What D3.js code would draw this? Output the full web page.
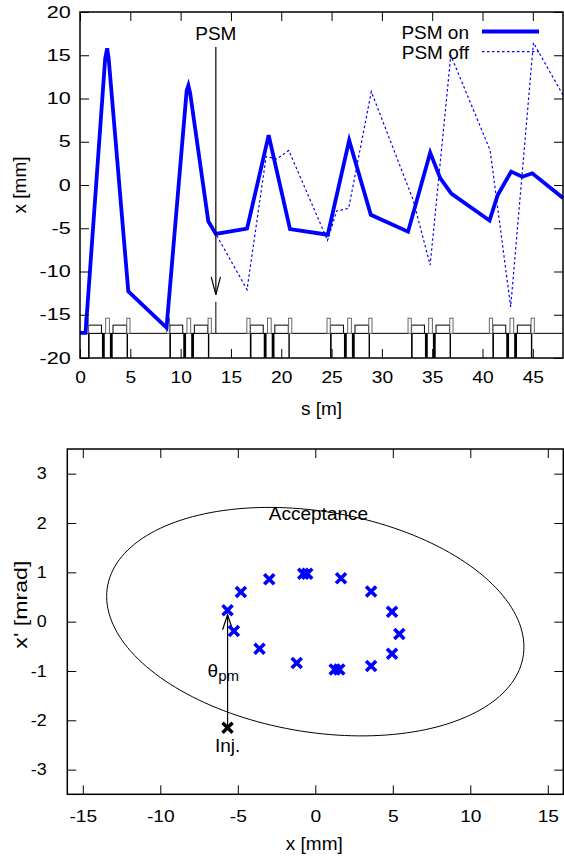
<!DOCTYPE html>
<html lang="en">
<head>
    <meta charset="UTF-8">
    <title>PSM orbit and phase space</title>
    <script src="https://d3js.org/d3.v7.min.js"></script>
    <style>
        body {
            margin: 0;
            background: #fff;
            font-family: "Liberation Sans", Arial, Helvetica, sans-serif;
        }
        text {
            fill: #000;
        }
    </style>
</head>
<body>
<div id="chart"></div>
<script>
    // ---- top panel data: closed orbit x [mm] along s [m] ----
    var psmOn = [[0, -17.1], [0.55, -17.1], [2.5, 14.6], [2.7, 15.8], [2.85, 14.6], [4.8, -12.3],
        [8.6, -16.5], [10.6, 10.9], [10.77, 11.5], [10.95, 10.6], [12.75, -4.2], [13.5, -5.66],
        [16.6, -5.05], [18.75, 5.75], [20.87, -5.1], [24.62, -5.75], [26.75, 5.15], [28.9, -3.45],
        [32.6, -5.4], [34.8, 3.74], [35.8, 0.8], [36.9, -1.0], [40.7, -4.1], [41.5, -1.2],
        [42.85, 1.55], [43.95, 0.95], [44.95, 1.35], [48, -1.5]];
    var psmOff = [[0, -17.1], [0.55, -17.1], [2.5, 14.6], [2.7, 15.8], [2.85, 14.6], [4.8, -12.3],
        [8.6, -16.5], [10.6, 10.9], [10.77, 11.5], [10.95, 10.6], [12.75, -4.2], [13.5, -5.66],
        [16.6, -12.1], [18.5, 3.3], [19.55, 3.0], [20.75, 4.0], [24.6, -6.4], [25.5, -3.0],
        [26.7, -2.7], [28.95, 10.8], [33.1, -1.7], [34.8, -9.25], [36.85, 15.0], [40.76, 4.0],
        [42.8, -14.1], [45.06, 16.45], [48, 10.4]];

    var sTicks = [0, 5, 10, 15, 20, 25, 30, 35, 40, 45];
    var xTicks = [-20, -15, -10, -5, 0, 5, 10, 15, 20];

    // lattice: cell start positions and element layout inside one cell (m)
    var cellStarts = [0.5, 8.58, 16.58, 24.55, 32.6, 40.68];
    var bends = [[0.35, 1.63], [2.78, 4.12]];
    var sexts = [[0, 0.32], [2.05, 2.42], [4.15, 4.47]];
    var quads = [[0.3, 0.46], [1.68, 1.96], [2.47, 2.75], [4.13, 4.27]];
    var psmPos = 13.5;
    var latticeBase = -17.15, bendTop = -16.2, sextTop = -15.4, psmTop = -13.5;

    // ---- bottom panel data: phase space x [mm], x' [mrad] ----
    var turns = [[-5.66, 0.23], [-5.25, -0.19], [-4.8, 0.6], [-3.6, -0.55], [-2.97, 0.86],
        [-1.2, -0.84], [-0.78, 0.97], [-0.52, 0.97], [1.25, -0.97], [1.55, -0.97], [1.66, 0.88],
        [3.6, 0.61], [3.6, -0.9], [4.95, 0.2], [4.95, -0.65], [5.42, -0.25]];
    var injection = [-5.66, -2.15];
    var kickTip = 0.14;
    // acceptance ellipse (Twiss)
    var accEmit = 30.4, accBeta = 5.96, accAlpha = 0.227;

    var phX = [-15, -10, -5, 0, 5, 10, 15];
    var phY = [-3, -2, -1, 0, 1, 2, 3];

    var svg = d3.select("#chart").append("svg")
        .attr("width", 564)
        .attr("height", 856);

    function hyphen(d) { return String(d); }

    // gnuplot-like box: inward ticks on all four sides, labels bottom/left
    function frame(g, x, y, w, h, xt, yt, xPad, yPad, kx, ky) {
        var bx = g.append("g")
            .attr("transform", "translate(0," + h + ")")
            .call(d3.axisBottom(x).tickValues(xt).tickSizeInner(-9).tickSizeOuter(0)
                .tickPadding(xPad).tickFormat(hyphen));
        g.append("g")
            .call(d3.axisTop(x).tickValues(xt).tickSizeInner(-9).tickSizeOuter(0).tickFormat(""));
        var ly = g.append("g")
            .call(d3.axisLeft(y).tickValues(yt).tickSizeInner(-9).tickSizeOuter(0)
                .tickPadding(yPad).tickFormat(hyphen));
        g.append("g")
            .attr("transform", "translate(" + w + ",0)")
            .call(d3.axisRight(y).tickValues(yt).tickSizeInner(-9).tickSizeOuter(0).tickFormat(""));
        g.selectAll(".domain").remove();
        g.selectAll(".tick text")
            .attr("font-size", 16)
            .attr("font-family", "Liberation Sans, Arial, sans-serif");
        bx.selectAll(".tick text").attr("transform", "scale(" + kx + ",1)");
        ly.selectAll(".tick text")
            .attr("x", -yPad / ky)
            .attr("transform", "scale(" + ky + ",1)");
        g.selectAll(".tick line").attr("stroke-width", 1);
        g.append("rect")
            .attr("width", w)
            .attr("height", h)
            .attr("fill", "none")
            .attr("stroke", "#000")
            .attr("stroke-width", 1.5);
    }

    function arrowHead(g, px, py, dir, len, half) {
        g.append("path")
            .attr("d", "M" + (px - half) + "," + (py - dir * len) + "L" + px + "," + py +
                "L" + (px + half) + "," + (py - dir * len))
            .attr("fill", "none")
            .attr("stroke", "#000")
            .attr("stroke-width", 1.2);
    }

    // ================= top panel =================
    var m1 = { left: 80, top: 12, width: 483, height: 346 };
    var g1 = svg.append("g").attr("transform", "translate(" + m1.left + "," + m1.top + ")");
    var x1 = d3.scaleLinear().domain([0, 48]).range([0, m1.width]);
    var y1 = d3.scaleLinear().domain([-20, 20]).range([m1.height, 0]);

    // lattice
    var lat = g1.append("g");
    lat.append("line")
        .attr("x1", x1(0)).attr("x2", x1(48))
        .attr("y1", y1(latticeBase)).attr("y2", y1(latticeBase))
        .attr("stroke", "#000").attr("stroke-width", 1);

    cellStarts.forEach(function (c) {
        quads.forEach(function (q) {
            lat.append("rect")
                .attr("x", x1(c + q[0]))
                .attr("width", x1(c + q[1]) - x1(c + q[0]))
                .attr("y", y1(latticeBase))
                .attr("height", y1(-20) - y1(latticeBase))
                .attr("fill", "#000");
        });
        bends.forEach(function (b) {
            lat.append("rect")
                .attr("x", x1(c + b[0]))
                .attr("width", x1(c + b[1]) - x1(c + b[0]))
                .attr("y", y1(bendTop))
                .attr("height", y1(latticeBase) - y1(bendTop))
                .attr("fill", "#fff").attr("stroke", "#000").attr("stroke-width", 1);
        });
        sexts.forEach(function (b) {
            lat.append("rect")
                .attr("x", x1(c + b[0]))
                .attr("width", x1(c + b[1]) - x1(c + b[0]))
                .attr("y", y1(sextTop))
                .attr("height", y1(latticeBase) - y1(sextTop))
                .attr("fill", "#fff").attr("stroke", "#666").attr("stroke-width", 1);
        });
    });
    lat.append("line")
        .attr("x1", x1(psmPos)).attr("x2", x1(psmPos))
        .attr("y1", y1(psmTop)).attr("y2", y1(latticeBase))
        .attr("stroke", "#000").attr("stroke-width", 1);

    var line1 = d3.line()
        .x(function (d) { return x1(d[0]); })
        .y(function (d) { return y1(d[1]); });

    g1.append("path")
        .datum(psmOff)
        .attr("d", line1)
        .attr("fill", "none")
        .attr("stroke", "#0000ff")
        .attr("stroke-width", 1.2)
        .attr("stroke-dasharray", "2.5,2.5");

    g1.append("path")
        .datum(psmOn)
        .attr("d", line1)
        .attr("fill", "none")
        .attr("stroke", "#0000ff")
        .attr("stroke-width", 3.8)
        .attr("stroke-linejoin", "miter");

    // PSM arrow
    g1.append("line")
        .attr("x1", x1(psmPos)).attr("x2", x1(psmPos))
        .attr("y1", y1(15.95)).attr("y2", y1(-12.7))
        .attr("stroke", "#000").attr("stroke-width", 1.2);
    arrowHead(g1, x1(psmPos), y1(-12.7), 1, 18, 4.6);
    g1.append("text")
        .attr("x", x1(psmPos))
        .attr("y", 27.5)
        .attr("text-anchor", "middle")
        .attr("font-size", 19)
        .text("PSM");

    frame(g1, x1, y1, m1.width, m1.height, sTicks, xTicks, 13.6, 9.3, 1.2, 1.35);

    // legend
    var leg = [{ name: "PSM on", w: 3.8, dash: null }, { name: "PSM off", w: 1.2, dash: "2.5,2.5" }];
    leg.forEach(function (d, i) {
        var yy = 31.5 + i * 20.2;
        svg.append("text")
            .attr("x", 469)
            .attr("y", yy + 7)
            .attr("text-anchor", "end")
            .attr("font-size", 19)
            .text(d.name);
        svg.append("line")
            .attr("x1", 482).attr("x2", 539)
            .attr("y1", yy).attr("y2", yy)
            .attr("stroke", "#0000ff")
            .attr("stroke-width", d.w)
            .attr("stroke-dasharray", d.dash);
    });

    svg.append("text")
        .attr("transform", "translate(26," + (m1.top + m1.height / 2) + ") rotate(-90)")
        .attr("text-anchor", "middle")
        .attr("font-size", 19)
        .text("x [mm]");
    svg.append("text")
        .attr("x", m1.left + m1.width / 2)
        .attr("y", 415)
        .attr("text-anchor", "middle")
        .attr("font-size", 19)
        .text("s [m]");

    // ================= bottom panel =================
    var m2 = { left: 67.3, top: 449, width: 496, height: 345.3 };
    var g2 = svg.append("g").attr("transform", "translate(" + m2.left + "," + m2.top + ")");
    var x2 = d3.scaleLinear().domain([-16, 16]).range([0, m2.width]);
    var y2 = d3.scaleLinear().domain([-3.5, 3.5]).range([m2.height, 0]);

    var accPts = d3.range(0, 361, 2).map(function (a) {
        var t = a * Math.PI / 180;
        return [Math.sqrt(accBeta * accEmit) * Math.cos(t),
            -Math.sqrt(accEmit / accBeta) * (accAlpha * Math.cos(t) + Math.sin(t))];
    });
    var line2 = d3.line()
        .x(function (d) { return x2(d[0]); })
        .y(function (d) { return y2(d[1]); });
    g2.append("path")
        .datum(accPts)
        .attr("d", line2)
        .attr("fill", "none")
        .attr("stroke", "#000")
        .attr("stroke-width", 1);

    g2.append("text")
        .attr("x", x2(-3.0))
        .attr("y", y2(2.06))
        .attr("font-size", 19)
        .text("Acceptance");

    // kick arrow
    g2.append("line")
        .attr("x1", x2(injection[0])).attr("x2", x2(injection[0]))
        .attr("y1", y2(injection[1])).attr("y2", y2(kickTip))
        .attr("stroke", "#000").attr("stroke-width", 1.2);
    arrowHead(g2, x2(injection[0]), y2(kickTip), -1, 15, 5);

    var cross = "M-5,-5L5,5M-5,5L5,-5";
    g2.selectAll(".turn")
        .data(turns)
        .enter()
        .append("path")
        .attr("class", "turn")
        .attr("transform", function (d) { return "translate(" + x2(d[0]) + "," + y2(d[1]) + ")"; })
        .attr("d", cross)
        .attr("stroke", "#0000ff")
        .attr("stroke-width", 3.6);
    g2.append("path")
        .attr("transform", "translate(" + x2(injection[0]) + "," + y2(injection[1]) + ")")
        .attr("d", cross)
        .attr("stroke", "#000")
        .attr("stroke-width", 3.4);

    var th = g2.append("text")
        .attr("x", x2(injection[0]) - 20)
        .attr("y", y2(injection[1]) - 51)
        .attr("font-size", 19);
    th.append("tspan").text("\u03b8");
    th.append("tspan").attr("font-size", 15).attr("dy", 4.5).text("pm");

    g2.append("text")
        .attr("x", x2(injection[0]))
        .attr("y", y2(injection[1]) + 24.5)
        .attr("text-anchor", "middle")
        .attr("font-size", 19)
        .text("Inj.");

    frame(g2, x2, y2, m2.width, m2.height, phX, phY, 16, 20.6, 1.2, 1.12);

    svg.append("text")
        .attr("transform", "translate(27," + (m2.top + m2.height / 2 - 17) + ") rotate(-90)")
        .attr("text-anchor", "middle")
        .attr("font-size", 19)
        .attr("textLength", 88)
        .attr("lengthAdjust", "spacingAndGlyphs")
        .text("x' [mrad]");
    svg.append("text")
        .attr("x", m2.left + m2.width / 2 - 1)
        .attr("y", 850)
        .attr("text-anchor", "middle")
        .attr("font-size", 19)
        .text("x [mm]");
</script>
</body>
</html>
